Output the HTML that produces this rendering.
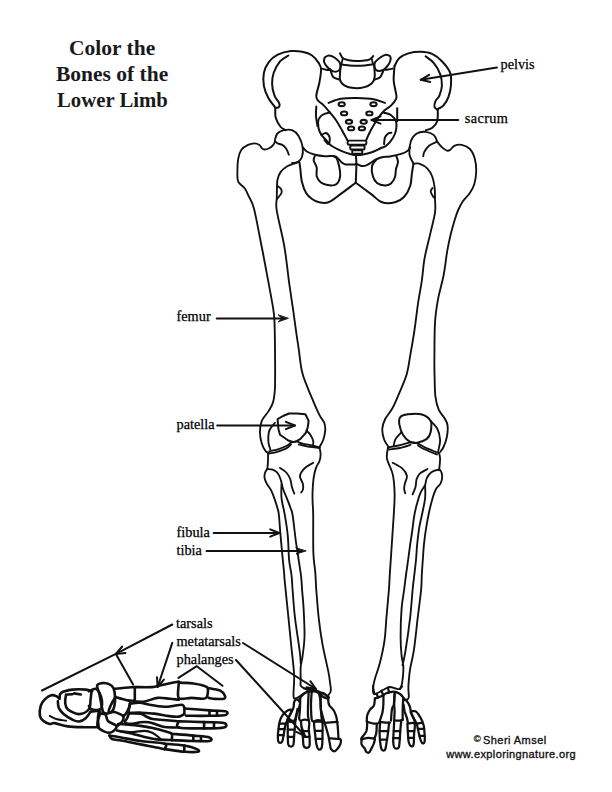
<!DOCTYPE html>
<html><head><meta charset="utf-8">
<style>
html,body{margin:0;padding:0;background:#fff;}
body{width:612px;height:792px;position:relative;overflow:hidden;}
.t{position:absolute;font-family:"Liberation Serif",serif;color:#1a1a1a;white-space:nowrap;line-height:1;}
.title{font-weight:bold;font-size:21.5px;}
.lab{font-size:14.3px;color:#000;-webkit-text-stroke:0.25px #000;}
.cr{position:absolute;font-family:"Liberation Sans",sans-serif;color:#111;-webkit-text-stroke:0.35px #111;white-space:nowrap;line-height:1;}
svg{position:absolute;left:0;top:0;}
</style></head><body>
<div class="t title" style="left:69px;top:38px">Color the</div>
<div class="t title" style="left:56px;top:64px">Bones of the</div>
<div class="t title" style="left:57px;top:90px;transform:scaleX(0.965);transform-origin:0 0">Lower Limb</div>
<div class="t lab" style="left:500.5px;top:57px">pelvis</div>
<div class="t lab" style="left:464.7px;top:111px;letter-spacing:0.4px">sacrum</div>
<div class="t lab" style="left:176.5px;top:308.7px">femur</div>
<div class="t lab" style="left:176.5px;top:416.5px">patella</div>
<div class="t lab" style="left:176.5px;top:524.7px">fibula</div>
<div class="t lab" style="left:176.5px;top:542.7px">tibia</div>
<div class="t lab" style="left:176px;top:616px">tarsals</div>
<div class="t lab" style="left:176.5px;top:634px">metatarsals</div>
<div class="t lab" style="left:176.5px;top:651.5px">phalanges</div>
<div class="cr" style="left:473.8px;top:734.3px;font-size:9.5px;font-weight:normal;-webkit-text-stroke:0.3px #222">©</div>
<div class="cr" style="left:483px;top:734.5px;font-size:11px;letter-spacing:0.45px">Sheri Amsel</div>
<div class="cr" style="left:446.2px;top:748.5px;font-size:11px;letter-spacing:0.38px">www.exploringnature.org</div>
<svg width="612" height="792" viewBox="0 0 612 792" fill="none" stroke="#111" stroke-linecap="round" stroke-linejoin="round">
<path d="M275.3,107.8C274.1,106.0 269.9,100.9 268.0,97.2C266.1,93.5 264.6,89.9 263.9,85.8C263.2,81.7 263.1,76.7 263.9,72.7C264.7,68.8 266.5,65.1 268.8,62.1C271.1,59.1 274.1,56.5 277.8,54.7C281.5,52.9 286.7,51.6 290.8,51.1C294.9,50.6 298.8,51.1 302.3,51.8C305.9,52.5 309.4,53.6 312.1,55.5C314.8,57.4 317.1,60.6 318.6,62.9C320.1,65.2 321.0,66.1 321.1,69.4C321.2,72.7 320.2,78.1 319.4,82.5C318.6,86.9 316.5,92.6 316.3,95.6C316.1,98.6 316.8,98.9 318.0,100.5C319.2,102.1 321.8,103.5 323.7,105.4C325.6,107.3 327.4,109.5 329.4,111.9C331.4,114.3 333.7,116.8 335.9,120.0C338.1,123.2 340.6,127.8 342.5,131.2C344.4,134.6 346.6,138.7 347.4,140.2" stroke-width="2.0"/>
<path d="M288.4,55.5C287.0,56.5 282.6,58.3 280.2,61.2C277.8,64.1 275.0,68.9 273.7,72.7C272.4,76.5 272.0,80.3 272.1,84.1C272.2,87.9 273.4,92.6 274.5,95.6C275.6,98.6 277.8,100.5 278.6,102.1C279.5,103.7 279.7,104.5 279.6,105.4C279.5,106.3 278.9,107.2 278.2,107.6C277.5,108.0 275.8,107.8 275.3,107.8" stroke-width="2.0"/>
<path d="M275.3,107.8C275.4,109.5 274.9,114.8 275.8,118.0C276.7,121.2 279.1,125.0 280.7,127.0C282.3,129.0 284.8,129.7 285.6,130.2" stroke-width="2.0"/>
<path d="M324.7,57.5C325.4,57.1 327.3,55.4 328.9,55.4C330.5,55.4 332.5,56.2 334.4,57.5C336.2,58.8 339.2,61.0 340.0,63.1C340.8,65.2 340.4,68.6 339.3,70.0C338.2,71.4 335.1,71.9 333.1,71.4C331.1,70.9 329.0,68.8 327.5,67.2C326.0,65.6 324.5,63.3 324.0,61.7C323.5,60.1 324.6,58.2 324.7,57.5" stroke-width="2.0"/>
<path d="M321.9,68.6C322.6,68.8 324.6,69.5 326.0,69.8C327.4,70.1 329.6,70.1 330.3,70.2" stroke-width="2.0"/>
<path d="M330.3,69.3C330.8,70.6 331.5,75.3 333.1,77.0C334.7,78.7 338.9,79.2 340.0,79.7" stroke-width="2.0"/>
<path d="M340.0,53.3C340.5,54.1 341.3,57.1 342.8,58.2C344.3,59.4 346.7,59.7 349.0,60.2C351.3,60.7 354.4,60.9 356.7,61.0C359.0,61.1 360.9,60.9 363.0,60.7C365.1,60.5 367.5,60.4 369.2,59.6C370.9,58.8 372.6,56.7 373.3,56.1" stroke-width="2.0"/>
<path d="M341.4,64.4C342.5,64.6 345.4,65.1 348.0,65.3C350.6,65.5 353.9,65.8 356.7,65.8C359.5,65.8 362.2,65.7 365.0,65.5C367.8,65.3 371.9,64.6 373.3,64.4" stroke-width="2.0"/>
<path d="M340.7,64.4C340.6,67.0 339.4,76.2 340.0,79.7C340.6,83.2 341.9,83.9 344.2,85.3C346.5,86.7 350.7,87.8 353.9,88.1C357.1,88.4 360.6,88.2 363.6,87.4C366.6,86.6 370.0,85.0 371.9,83.2C373.8,81.5 374.3,80.0 374.7,76.9C375.1,73.8 374.1,66.5 374.0,64.4" stroke-width="2.0"/>
<path d="M342.8,58.2L341.5,64.0" stroke-width="1.8"/>
<path d="M371.8,59.0L373.0,64.0" stroke-width="1.8"/>
<path d="M390.0,56.1C389.3,55.9 387.4,54.5 385.8,54.7C384.2,54.9 382.2,56.1 380.3,57.5C378.4,58.9 375.4,61.0 374.7,63.1C374.0,65.2 374.7,68.8 376.1,70.0C377.5,71.2 381.0,70.9 383.1,70.0C385.2,69.1 387.3,66.2 388.6,64.4C389.9,62.6 390.5,60.3 390.7,58.9C390.9,57.5 390.1,56.6 390.0,56.1" stroke-width="2.0"/>
<path d="M383.1,71.4C382.6,72.3 381.7,75.6 380.3,77.0C378.9,78.4 375.6,79.2 374.7,79.7" stroke-width="2.0"/>
<path d="M383.1,70.0C383.9,69.9 386.4,69.7 388.0,69.5C389.6,69.3 392.0,68.8 392.8,68.6" stroke-width="2.0"/>
<path d="M394.5,66.1C395.3,64.8 396.9,60.2 399.4,58.0C401.8,55.8 405.6,54.1 409.2,53.1C412.8,52.1 416.9,51.7 420.7,51.8C424.5,51.9 428.6,52.3 432.1,53.9C435.6,55.5 438.9,58.1 441.9,61.2C444.9,64.3 448.6,68.6 450.1,72.7C451.6,76.8 451.2,81.7 450.9,85.8C450.6,89.9 449.6,93.9 448.4,97.2C447.2,100.5 445.1,103.5 443.5,105.4C441.9,107.3 439.7,107.9 438.6,108.6C437.5,109.3 437.3,109.3 437.0,109.4" stroke-width="2.0"/>
<path d="M425.6,56.3C427.0,57.4 431.2,59.9 433.7,62.9C436.1,65.9 438.9,70.5 440.3,74.3C441.7,78.1 442.0,82.2 441.9,85.8C441.8,89.3 440.5,93.0 439.4,95.6C438.3,98.2 436.2,99.4 435.4,101.3C434.6,103.2 434.2,105.7 434.5,107.0C434.8,108.3 436.6,109.0 437.0,109.4" stroke-width="2.0"/>
<path d="M437.8,109.4C437.7,111.4 438.1,118.1 437.2,121.2C436.3,124.3 434.2,126.3 432.3,127.8C430.4,129.3 426.9,129.8 425.8,130.2" stroke-width="2.0"/>
<path d="M394.5,66.1C394.4,68.5 393.4,76.2 393.7,80.8C394.0,85.4 395.7,90.9 396.1,93.9C396.5,96.9 396.9,96.9 396.1,98.8C395.3,100.7 393.1,103.5 391.2,105.4C389.3,107.3 386.8,108.3 384.7,110.3C382.6,112.3 380.9,114.0 378.5,117.5C376.1,121.0 372.4,127.4 370.3,131.2C368.2,135.0 366.9,138.7 366.2,140.2" stroke-width="2.0"/>
<path d="M328.6,102.9C330.6,102.2 336.0,99.6 340.8,98.8C345.6,98.0 351.8,97.9 357.2,98.0C362.6,98.1 368.9,98.4 373.5,99.2C378.1,100.0 383.1,102.3 385.0,102.9" stroke-width="2.0"/>
<path d="M316.3,106.5C316.2,108.1 315.8,112.8 316.0,116.0C316.2,119.2 317.2,124.3 317.5,126.0" stroke-width="2.0"/>
<path d="M397.2,108.2L397.2,121.2" stroke-width="2.0"/>
<path d="M330.0,112.5C328.8,112.8 324.9,113.3 323.0,114.5C321.1,115.7 319.2,117.2 318.5,119.5C317.8,121.8 318.0,125.4 318.5,128.0C319.0,130.6 320.2,133.0 321.5,135.0C322.8,137.0 324.4,138.2 326.0,140.0C327.6,141.8 328.9,144.0 331.4,145.8C333.9,147.6 337.9,149.4 341.2,150.8C344.5,152.2 348.6,153.5 351.0,154.2C353.4,154.9 355.0,155.0 355.8,155.2" stroke-width="2.0"/>
<path d="M321.5,135.0C322.2,134.7 324.7,132.7 326.0,133.0C327.3,133.3 328.9,135.5 329.5,137.0C330.1,138.5 329.8,140.8 329.5,142.0C329.2,143.2 328.8,144.3 328.0,144.0C327.2,143.7 325.1,140.7 324.5,140.0" stroke-width="2.0"/>
<path d="M384.0,112.7C385.2,113.1 389.2,113.7 391.2,115.2C393.2,116.7 395.3,119.2 396.1,121.7C396.9,124.2 396.6,127.2 396.1,129.9C395.6,132.6 394.5,135.4 392.9,138.0C391.3,140.6 388.6,143.8 386.5,145.5C384.4,147.2 382.6,147.3 380.0,148.5C377.4,149.7 374.0,151.5 371.0,152.5C368.0,153.5 364.4,154.2 362.0,154.7C359.6,155.1 357.4,155.1 356.5,155.2" stroke-width="2.0"/>
<path d="M384.1,144.1C384.2,143.0 384.2,139.4 384.9,137.6C385.6,135.8 387.1,134.3 388.2,133.5C389.3,132.7 390.9,132.8 391.4,132.7" stroke-width="2.0"/>
<path d="M302.7,147.4C303.4,148.1 304.8,150.3 306.8,151.5C308.9,152.7 312.0,153.9 315.0,154.7C318.0,155.5 322.3,156.0 324.8,156.2C327.3,156.4 328.1,156.0 330.0,156.1C331.9,156.2 333.9,155.5 335.9,156.6C337.9,157.7 340.2,161.2 341.8,162.5C343.4,163.8 343.6,164.1 345.7,164.4C347.8,164.7 352.7,164.5 354.5,164.4C356.3,164.3 355.4,163.7 356.5,163.9C357.6,164.2 359.8,165.7 361.4,165.9C363.0,166.2 364.7,166.0 366.3,165.4C367.9,164.8 369.6,163.5 371.2,162.5C372.8,161.5 374.3,160.4 376.1,159.5C377.9,158.6 379.7,157.7 382.0,157.2C384.3,156.7 386.6,156.9 389.8,156.4C393.0,155.9 398.2,154.9 401.2,153.9C404.2,152.9 406.3,151.8 407.8,150.7C409.3,149.6 409.8,147.9 410.2,147.4" stroke-width="2.0"/>
<path d="M314.7,156.2C314.5,156.9 313.4,158.7 313.7,160.6C314.0,162.5 316.2,164.9 316.7,167.5C317.2,170.1 316.0,173.9 316.7,176.3C317.4,178.8 318.8,180.7 320.6,182.2C322.4,183.7 325.2,184.6 327.5,185.1C329.8,185.6 332.5,185.6 334.3,185.1C336.1,184.6 337.2,183.8 338.2,182.2C339.2,180.6 340.0,177.9 340.2,175.3C340.4,172.7 339.8,169.3 339.2,166.5C338.6,163.7 337.6,160.2 336.8,158.6C336.0,157.0 334.7,157.0 334.3,156.7" stroke-width="2.0"/>
<path d="M376.0,160.0C375.3,161.0 372.5,163.3 372.0,166.0C371.5,168.7 372.0,173.3 372.8,176.1C373.6,178.9 375.0,181.4 377.0,183.0C379.0,184.6 382.6,185.4 384.9,185.5C387.2,185.6 389.3,184.9 391.0,183.5C392.7,182.1 394.2,179.4 395.0,177.0C395.8,174.6 395.5,171.5 396.0,169.0C396.5,166.5 397.9,164.2 398.0,162.0C398.1,159.8 396.6,157.0 396.3,156.0" stroke-width="2.0"/>
<path d="M355.9,155.7C356.0,157.2 356.4,160.6 356.4,164.5C356.4,168.4 356.0,176.2 355.9,179.2C355.8,182.2 355.8,182.1 355.8,182.7" stroke-width="2.0"/>
<path d="M299.4,162.1C299.5,163.2 299.9,165.3 300.3,168.6C300.7,171.9 300.9,177.6 301.9,181.7C302.9,185.8 304.4,190.1 306.1,193.0C307.8,195.9 309.8,197.4 312.0,199.0C314.2,200.6 316.5,201.8 319.2,202.3C321.9,202.9 324.9,203.6 328.4,202.3C331.9,201.0 335.5,197.7 340.1,194.4C344.7,191.1 353.2,184.6 355.8,182.7" stroke-width="2.0"/>
<path d="M355.8,182.7C358.4,184.6 367.1,191.1 371.5,194.4C375.9,197.7 378.1,201.0 382.0,202.3C385.9,203.6 391.3,203.2 395.0,202.3C398.7,201.4 401.5,199.7 404.0,197.0C406.5,194.3 408.9,189.9 410.2,186.0C411.5,182.1 411.3,177.2 411.9,173.5C412.4,169.8 413.2,165.3 413.5,163.7" stroke-width="2.0"/>
<path d="M274.9,140.0C275.3,138.9 275.9,135.1 277.4,133.5C278.9,131.9 281.4,130.8 283.9,130.2C286.3,129.6 289.7,129.2 292.1,130.2C294.6,131.2 296.8,133.1 298.6,136.0C300.4,138.9 302.1,143.9 302.7,147.4C303.2,150.9 302.7,154.8 301.9,157.2C301.1,159.6 299.4,161.1 297.8,162.1C296.2,163.1 293.1,162.8 292.1,162.9" stroke-width="1.85"/>
<path d="M274.9,141.0C275.3,141.4 276.2,142.7 277.4,143.3C278.6,144.0 280.8,144.0 282.3,144.9C283.8,145.8 285.3,147.4 286.4,149.0C287.5,150.6 288.4,153.8 288.8,154.7" stroke-width="1.85"/>
<path d="M274.9,141.7C274.6,142.2 274.2,143.8 273.3,144.9C272.4,146.0 270.7,147.4 269.2,148.2C267.7,149.0 265.5,149.5 264.3,149.5C263.1,149.5 262.7,149.0 261.9,148.2C261.1,147.4 260.6,145.7 259.4,144.9C258.2,144.1 256.4,143.3 254.5,143.3C252.6,143.3 250.2,143.8 248.0,144.9C245.8,146.0 243.0,147.5 241.4,149.8C239.8,152.1 238.9,155.1 238.2,158.8C237.5,162.5 237.4,168.1 237.4,171.9C237.4,175.7 237.0,179.0 238.2,181.7C239.4,184.4 242.9,185.8 244.7,188.2C246.5,190.6 247.2,192.9 248.8,196.4C250.4,199.9 251.9,200.5 254.1,208.9C256.2,217.3 259.6,236.4 261.7,246.8C263.8,257.2 264.5,261.3 266.4,271.4C268.3,281.5 271.6,298.9 273.0,307.4C274.4,315.9 274.2,315.7 274.5,322.6C274.8,329.5 274.9,338.2 275.0,348.9C275.1,359.6 275.3,377.9 275.0,386.8C274.7,395.7 274.2,397.9 273.1,402.0C272.0,406.1 270.3,408.2 268.4,411.4C266.5,414.5 263.2,417.4 261.8,420.9C260.4,424.4 259.9,428.5 259.9,432.3C259.9,436.1 260.9,440.5 261.8,443.6C262.8,446.8 264.3,449.6 265.6,451.2C266.9,452.8 268.8,452.8 269.4,453.1" stroke-width="1.85"/>
<path d="M297.8,162.1C297.1,162.4 295.5,163.0 293.7,163.7C291.9,164.4 289.4,164.8 287.2,166.2C285.0,167.6 282.3,169.6 280.7,171.9C279.1,174.2 278.0,175.8 277.4,180.1C276.8,184.4 276.9,192.5 276.8,197.6C276.7,202.7 275.5,202.6 276.8,210.8C278.1,219.0 282.3,234.5 284.4,246.8C286.5,259.1 287.9,274.0 289.4,284.7C290.9,295.4 292.2,303.6 293.3,311.2C294.4,318.8 295.0,323.7 295.9,330.0C296.8,336.3 297.6,341.6 298.7,348.9C299.8,356.2 300.3,365.4 302.5,373.6C304.7,381.8 309.2,391.3 312.0,398.2C314.8,405.1 317.4,411.1 319.5,415.2C321.6,419.3 323.4,420.3 324.3,422.8C325.2,425.3 325.4,427.6 325.2,430.4C325.0,433.2 324.2,437.0 323.3,439.8C322.4,442.6 320.1,445.8 319.5,447.0" stroke-width="1.85"/>
<path d="M277.4,186.0C278.0,186.5 280.3,187.8 281.0,189.0C281.7,190.2 282.2,191.3 281.5,193.0C280.8,194.7 277.8,198.0 277.0,199.0" stroke-width="1.85"/>
<path d="M277.6,419.2 L283.0,416.0 L289.0,413.5 L297.0,413.6 L305.4,414.3 L308.6,420.8 L307.8,427.0 L306.2,432.3 L300.5,438.8 L297.0,440.8 L293.9,442.1 L288.2,440.5 L284.0,437.5 L280.0,434.7 L278.4,429.0Z" stroke-width="2.0"/>
<path d="M275.0,422.8C274.1,424.1 270.5,427.2 269.4,430.4C268.3,433.5 268.2,438.5 268.4,441.7C268.5,444.9 270.0,448.0 270.3,449.3" stroke-width="1.85"/>
<path d="M306.4,430.5C307.1,431.2 309.4,433.2 310.5,435.0C311.6,436.8 312.8,439.2 313.2,441.0C313.6,442.8 313.0,445.2 313.0,446.0" stroke-width="1.85"/>
<path d="M269.4,451.2C270.8,450.9 274.9,450.2 277.9,449.3C280.9,448.4 285.1,446.6 287.3,445.5C289.5,444.4 289.5,443.3 291.1,442.7C292.7,442.1 294.9,441.5 296.8,441.7C298.7,441.9 300.0,443.0 302.5,443.6C305.0,444.2 309.2,444.9 312.0,445.5C314.8,446.1 318.2,447.1 319.5,447.4" stroke-width="1.85"/>
<path d="M269.2,453.5C270.5,453.2 274.3,452.7 277.2,451.8C280.1,450.9 284.0,449.6 286.3,448.4C288.6,447.2 290.2,445.1 291.0,444.5" stroke-width="1.85"/>
<path d="M298.9,444.5C300.4,444.9 304.6,446.1 308.0,446.7C311.4,447.3 317.6,447.8 319.5,448.0" stroke-width="1.85"/>
<path d="M413.5,163.7C412.8,162.1 409.8,157.7 409.4,153.9C409.0,150.1 409.8,144.2 411.0,140.8C412.2,137.4 414.3,135.0 416.8,133.5C419.3,132.0 423.0,131.6 425.8,131.9C428.6,132.2 432.0,133.5 433.9,135.1C435.8,136.7 436.6,140.6 437.2,141.7" stroke-width="1.85"/>
<path d="M437.2,141.7C435.8,142.4 431.2,144.0 429.0,145.8C426.8,147.6 425.1,150.5 424.1,152.3C423.2,154.1 423.4,155.7 423.3,156.4" stroke-width="1.85"/>
<path d="M437.2,141.7C438.0,142.6 440.5,145.9 442.1,147.4C443.7,148.9 445.6,150.3 447.0,150.7C448.4,151.1 449.1,150.6 450.3,149.8C451.5,149.0 452.4,146.6 454.3,145.8C456.2,145.0 459.1,144.4 461.7,144.9C464.3,145.4 467.7,146.7 469.9,149.0C472.1,151.3 473.8,155.1 474.8,158.8C475.9,162.6 476.3,167.2 476.2,171.5C476.1,175.8 475.3,180.8 474.2,184.5C473.1,188.2 471.4,190.7 469.5,193.5C467.6,196.3 464.6,198.8 462.7,201.5C460.8,204.2 459.5,207.1 458.2,210.0C456.9,212.9 456.2,215.0 455.0,219.0C453.8,223.0 452.1,228.7 450.8,234.0C449.5,239.3 448.5,243.7 447.3,250.6C446.1,257.5 445.2,267.0 443.6,275.2C442.0,283.4 439.3,291.9 437.9,299.8C436.5,307.7 435.6,312.8 435.0,322.6C434.4,332.4 434.5,349.3 434.4,358.4C434.3,367.5 434.4,371.0 434.6,377.3C434.8,383.6 434.7,391.0 435.4,396.3C436.1,401.6 437.0,405.6 438.6,409.4C440.2,413.2 443.7,416.5 445.2,419.2C446.7,421.9 447.3,422.8 447.6,425.8C447.9,428.8 447.5,433.7 446.8,437.2C446.1,440.7 444.6,444.6 443.5,447.0C442.4,449.4 440.8,451.1 440.3,451.9" stroke-width="1.85"/>
<path d="M413.5,163.7C414.4,163.7 416.9,162.9 419.2,163.7C421.5,164.5 425.2,166.4 427.4,168.6C429.6,170.8 431.1,173.5 432.3,176.8C433.5,180.1 434.2,184.4 434.7,188.2C435.1,192.0 434.9,195.4 435.0,199.5C435.1,203.6 435.8,207.0 435.0,212.7C434.2,218.4 432.0,226.0 430.3,233.6C428.6,241.2 426.0,250.3 424.6,258.2C423.2,266.1 422.9,273.3 421.8,280.9C420.7,288.5 419.2,295.4 418.0,303.6C416.8,311.8 415.7,321.8 414.5,330.0C413.3,338.2 412.0,345.4 410.7,352.7C409.4,360.0 408.6,367.3 406.9,373.6C405.2,379.9 402.7,384.9 400.3,390.6C397.9,396.3 395.2,403.0 392.7,407.7C390.2,412.4 386.9,415.5 385.2,419.0C383.5,422.5 382.5,425.0 382.3,428.5C382.1,432.0 383.1,436.7 384.2,439.8C385.3,442.9 388.1,446.1 388.9,447.4" stroke-width="1.85"/>
<path d="M432.5,188.0C432.2,188.6 430.6,190.1 430.7,191.5C430.8,192.9 432.4,195.3 433.1,196.4C433.8,197.5 434.7,197.7 435.0,198.0" stroke-width="1.85"/>
<path d="M400.3,417.1C401.7,415.4 404.4,414.8 407.9,414.3C411.4,413.8 417.3,413.2 421.1,414.3C424.9,415.4 429.0,417.9 430.6,420.9C432.2,423.9 431.2,429.3 430.6,432.3C430.0,435.3 429.0,437.2 426.8,438.9C424.6,440.6 420.1,442.2 417.3,442.7C414.5,443.2 412.2,443.0 409.8,441.7C407.4,440.4 404.8,437.9 403.1,435.1C401.4,432.3 399.9,427.7 399.4,424.7C398.9,421.7 398.9,418.8 400.3,417.1Z" stroke-width="2.0"/>
<path d="M401.3,432.3C400.4,433.4 396.9,436.7 395.6,438.9C394.3,441.1 394.0,444.4 393.7,445.5" stroke-width="1.85"/>
<path d="M430.6,420.9C431.7,422.2 435.6,425.4 437.2,428.5C438.8,431.6 439.9,436.0 440.1,439.8C440.3,443.6 438.5,449.3 438.2,451.2" stroke-width="1.85"/>
<path d="M388.0,447.4C389.7,447.1 394.8,446.3 398.4,445.5C402.0,444.7 406.6,443.1 409.8,442.7C413.0,442.3 414.8,442.5 417.3,443.3C419.8,444.1 421.7,445.9 424.9,447.4C428.1,448.9 433.9,451.2 436.3,452.2C438.7,453.1 438.6,453.0 439.1,453.1" stroke-width="1.85"/>
<path d="M389.0,449.5C390.8,449.2 396.4,448.8 400.0,448.0C403.6,447.2 408.8,445.3 410.5,444.8" stroke-width="1.85"/>
<path d="M418.0,445.5C419.2,446.2 421.8,448.0 425.0,449.5C428.2,451.0 435.0,453.7 437.0,454.5" stroke-width="1.85"/>
<path d="M268.0,453.0C268.0,454.3 268.1,458.4 268.0,461.0C267.9,463.6 267.5,467.2 267.4,468.5" stroke-width="1.85"/>
<path d="M267.4,469.0C267.0,469.6 265.6,471.0 265.1,472.5C264.6,474.0 264.3,476.3 264.6,478.2C264.9,480.1 265.8,481.8 266.9,483.9C268.0,486.0 270.1,488.1 271.4,490.8C272.7,493.5 273.8,496.9 274.9,499.9C275.9,502.9 277.0,506.5 277.7,509.0C278.4,511.5 278.5,511.0 278.9,515.0C279.3,519.0 279.8,526.4 280.3,532.8C280.9,539.2 281.6,547.0 282.2,553.6C282.8,560.2 283.7,568.2 284.1,572.6C284.5,577.0 284.0,574.0 284.6,580.0C285.2,586.0 286.4,597.4 287.5,608.4C288.6,619.4 290.2,635.2 291.3,646.3C292.4,657.3 293.7,666.4 294.1,674.7C294.5,683.0 293.2,692.2 293.5,696.1C293.8,700.0 295.0,698.1 296.1,698.1C297.2,698.1 298.7,697.0 300.1,696.1C301.5,695.2 303.9,693.4 304.6,692.9" stroke-width="1.85"/>
<path d="M267.4,469.0C268.3,469.1 271.0,469.0 272.6,469.6C274.2,470.2 275.9,470.9 277.2,472.5C278.5,474.1 279.7,476.6 280.6,479.3C281.6,482.0 281.8,485.1 282.9,488.5C284.0,491.9 286.2,496.5 287.5,499.9C288.8,503.3 290.0,506.5 290.9,509.0C291.8,511.5 291.8,510.1 292.6,515.0C293.4,519.9 294.6,531.4 295.5,538.5C296.4,545.6 297.4,551.1 298.3,557.4C299.2,563.7 300.5,571.0 301.1,576.4C301.7,581.8 301.7,584.7 302.1,590.0C302.5,595.3 303.2,600.6 303.6,608.4C304.0,616.2 304.7,628.9 304.5,636.8C304.3,644.7 303.2,650.8 302.6,655.8C302.0,660.8 301.0,663.0 300.7,667.1C300.4,671.2 300.7,677.4 300.7,680.5C300.7,683.6 300.1,684.4 300.7,685.7C301.2,687.0 302.8,687.6 304.0,688.3C305.2,688.9 307.2,689.4 307.9,689.6" stroke-width="1.85"/>
<path d="M281.5,484.5C281.5,486.7 281.0,492.9 281.5,497.9C282.0,502.9 283.6,508.0 284.7,514.3C285.8,520.6 287.1,528.2 287.8,535.8C288.5,543.4 288.5,553.5 289.1,560.0C289.7,566.5 290.9,570.0 291.5,575.0C292.1,580.0 292.0,582.9 292.6,590.0C293.2,597.1 293.8,607.6 295.0,617.9C296.2,628.2 298.9,644.4 299.8,652.0C300.8,659.6 300.6,661.4 300.7,663.3" stroke-width="1.85"/>
<path d="M280.0,467.9C281.1,468.7 284.6,470.6 286.3,472.5C288.0,474.4 289.4,476.8 290.3,479.3C291.2,481.8 291.3,484.9 292.0,487.3C292.7,489.7 293.9,492.6 294.3,493.6" stroke-width="1.85"/>
<path d="M313.2,462.7C312.0,463.5 307.8,465.7 305.8,467.3C303.8,468.9 302.2,470.9 301.2,472.5C300.2,474.1 299.7,475.1 300.0,477.0C300.3,478.9 302.4,481.8 302.9,483.9C303.4,486.0 303.2,488.2 302.9,489.6C302.6,491.0 301.5,492.0 301.2,492.5" stroke-width="1.85"/>
<path d="M319.5,447.3C319.7,448.4 320.6,451.9 320.6,454.2C320.6,456.5 320.3,458.7 319.5,461.0C318.7,463.3 316.9,465.2 316.0,467.9C315.1,470.6 314.4,473.2 313.8,477.0C313.2,480.8 312.8,486.6 312.6,490.8C312.4,495.0 312.5,498.2 312.6,502.2C312.7,506.2 313.1,506.4 313.2,515.0C313.3,523.6 313.0,544.0 313.4,553.6C313.8,563.2 314.8,566.5 315.3,572.6C315.8,578.7 315.7,582.5 316.3,590.0C316.9,597.5 317.7,608.8 318.7,617.9C319.7,627.0 320.9,635.6 322.5,644.4C324.1,653.2 326.9,664.4 328.2,670.9C329.5,677.4 329.7,679.8 330.1,683.1C330.5,686.4 331.1,688.8 330.8,690.9C330.5,693.0 329.2,694.4 328.2,695.5C327.2,696.6 325.9,697.4 324.9,697.5C323.9,697.6 323.2,696.9 322.3,696.1C321.4,695.3 320.6,693.8 319.7,692.9C318.8,692.0 317.5,691.2 317.1,690.9" stroke-width="1.85"/>
<path d="M304.0,688.3C304.9,688.4 307.1,688.5 309.2,688.9C311.3,689.3 314.3,689.8 316.8,690.8C319.3,691.8 323.1,694.0 324.4,694.6" stroke-width="1.85"/>
<path d="M388.0,447.6C387.8,449.5 386.2,454.5 387.0,458.9C387.8,463.3 391.4,468.4 392.7,474.1C394.0,479.8 394.4,486.1 394.6,493.0C394.8,499.9 394.2,507.3 393.7,515.8C393.2,524.3 392.4,534.7 391.8,544.2C391.2,553.7 390.4,565.0 389.9,572.6C389.4,580.2 389.5,582.5 388.9,590.0C388.3,597.5 387.1,609.5 386.4,617.9C385.7,626.3 385.6,633.0 384.5,640.6C383.4,648.2 381.4,657.0 379.8,663.3C378.2,669.6 376.1,674.5 375.0,678.5C373.9,682.5 373.4,684.4 373.3,687.0C373.2,689.6 374.4,693.0 374.6,694.2" stroke-width="1.85"/>
<path d="M439.1,453.1C439.3,454.1 440.1,456.0 440.1,458.9C440.1,461.8 439.3,468.4 439.1,470.3" stroke-width="1.85"/>
<path d="M425.1,485.3C424.4,486.5 421.9,489.8 420.6,492.7C419.3,495.6 418.2,499.2 417.2,503.0C416.1,506.8 415.2,510.6 414.3,515.5C413.4,520.4 412.8,527.2 412.0,532.5C411.2,537.8 410.4,542.7 409.8,547.3C409.2,551.9 408.7,555.4 408.1,560.0C407.5,564.6 406.7,570.0 406.0,575.0C405.3,580.0 404.8,584.4 404.1,590.0C403.4,595.6 402.2,600.6 401.6,608.4C401.0,616.2 400.6,628.9 400.6,636.8C400.6,644.7 401.1,650.8 401.6,655.8C402.1,660.8 403.3,662.5 403.4,667.1C403.5,671.7 402.7,679.5 402.1,683.1C401.6,686.8 400.4,688.0 400.1,689.0" stroke-width="1.85"/>
<path d="M425.1,485.9C425.1,488.0 425.6,493.8 425.1,498.4C424.6,502.9 423.2,508.5 422.3,513.2C421.4,517.9 420.2,521.7 419.4,526.8C418.5,531.9 417.8,538.4 417.2,543.9C416.6,549.4 416.5,554.8 416.0,560.0C415.5,565.2 414.9,570.0 414.3,575.0C413.7,580.0 413.3,582.9 412.6,590.0C411.9,597.1 411.3,607.6 410.1,617.9C408.9,628.2 406.6,644.1 405.3,652.0C404.0,659.9 403.0,663.0 402.5,665.2" stroke-width="1.85"/>
<path d="M425.1,485.9C425.4,484.6 425.8,480.3 426.8,478.0C427.9,475.7 429.7,473.6 431.4,472.3C433.1,471.0 435.5,470.3 437.0,470.0C438.5,469.7 439.6,469.4 440.5,470.5C441.4,471.6 442.2,474.6 442.2,476.8C442.2,479.0 441.6,481.5 440.5,483.6C439.4,485.7 437.2,486.8 435.9,489.3C434.6,491.8 433.6,494.6 432.5,498.4C431.4,502.2 430.1,507.3 429.1,512.0C428.1,516.7 427.2,521.5 426.3,526.8C425.4,532.1 424.6,538.4 424.0,543.9C423.4,549.4 423.2,554.8 422.8,560.0C422.4,565.2 422.1,570.0 421.8,575.0C421.5,580.0 421.8,582.9 421.1,590.0C420.4,597.1 418.9,607.9 417.7,617.9C416.5,627.9 415.2,641.6 413.9,650.1C412.6,658.6 411.0,663.5 410.1,669.0C409.2,674.5 408.9,679.7 408.6,683.1C408.3,686.5 408.4,687.2 408.4,689.5C408.4,691.8 409.0,695.4 408.8,697.0C408.6,698.6 408.1,699.1 407.4,699.4C406.7,699.7 405.8,699.8 404.6,698.9C403.4,698.0 401.6,695.3 400.3,694.2C399.0,693.1 397.6,692.6 397.0,692.3" stroke-width="1.85"/>
<path d="M392.7,462.7C394.3,463.6 399.8,466.2 402.2,468.4C404.6,470.6 406.4,473.3 406.9,475.7C407.4,478.1 405.7,480.4 405.2,482.5C404.7,484.6 404.1,486.4 404.1,488.2C404.1,490.0 405.0,492.4 405.2,493.3" stroke-width="1.85"/>
<path d="M427.5,469.0C426.2,469.7 421.8,471.7 420.0,473.4C418.2,475.1 417.4,476.8 416.6,479.1C415.9,481.4 416.2,484.4 415.5,487.0C414.8,489.6 413.1,493.2 412.6,494.4" stroke-width="1.85"/>
<path d="M373.0,685.7C373.0,686.7 372.8,690.0 373.0,691.4C373.2,692.8 373.0,694.3 374.4,694.2C375.8,694.1 379.1,692.1 381.5,690.9C383.9,689.7 386.8,687.5 389.1,687.1C391.5,686.7 393.9,688.2 395.6,688.5C397.3,688.8 398.3,689.3 399.4,689.0C400.5,688.7 401.7,687.0 402.2,686.6" stroke-width="1.85"/>
<path d="M496.9,67.6L420.8,79.8" stroke-width="2.0"/>
<path d="M429.1,74.8L420.8,79.8L430.3,81.9" stroke-width="2.0"/>
<path d="M458.2,120L371.5,120" stroke-width="2.0"/>
<path d="M380.5,116.4L371.5,120L380.5,123.6" stroke-width="2.0"/>
<path d="M216.7,318.4L283.2,318.4" stroke-width="2.0"/>
<path d="M217.2,425.5L294.9,425.5" stroke-width="2.0"/>
<path d="M285.9,429.1L294.9,425.5L285.9,421.9" stroke-width="2.0"/>
<path d="M213.6,533L279.2,533" stroke-width="2.0"/>
<path d="M270.2,536.6L279.2,533L270.2,529.4" stroke-width="2.0"/>
<path d="M206.5,551L300.9,551.0" stroke-width="2.0"/>
<path d="M172.3,624.5L115.9,653.9" stroke-width="2.0"/>
<path d="M122.2,646.5L115.9,653.9L125.5,652.9" stroke-width="2.0"/>
<path d="M42.0,690.5 L115.9,653.9 L133.1,684.6" stroke-width="2.0"/>
<path d="M172.3,642.9L157.6,687" stroke-width="2.0"/>
<path d="M157.0,677.3L157.6,687L163.9,679.6" stroke-width="2.0"/>
<path d="M178.4,677.9 L196.8,666.2 L222.5,685.8" stroke-width="2.0"/>
<path d="M243,643L316,689" stroke-width="2.0"/>
<path d="M306.5,687.2L316,689L310.3,681.2" stroke-width="2.0"/>
<path d="M236,660L305,736" stroke-width="2.0"/>
<path d="M296.3,731.8L305,736L301.6,726.9" stroke-width="2.0"/>
<path d="M306.6,689.6C307.5,689.6 310.4,689.6 312.0,689.8C313.6,690.0 315.0,690.2 316.5,690.7C318.0,691.2 319.6,692.0 320.9,692.5C322.1,693.0 322.8,692.8 324.0,693.5C325.2,694.2 327.3,696.0 328.0,696.5" stroke-width="2.25"/>
<path d="M299.5,698.2C300.2,697.5 302.7,694.9 303.9,693.9C305.1,692.9 305.4,692.5 306.6,692.1C307.8,691.7 309.6,691.7 311.1,691.6C312.6,691.5 314.2,691.3 315.6,691.6C317.0,691.9 318.0,692.6 319.2,693.4C320.4,694.2 321.5,695.8 322.7,696.6C323.9,697.4 325.2,698.2 326.3,698.4C327.4,698.5 328.6,697.6 329.0,697.5" stroke-width="2.25"/>
<path d="M290.4,709.7C289.6,709.8 288.0,710.2 286.7,711.2C285.4,712.2 283.5,713.9 282.3,715.6C281.1,717.3 280.3,719.4 279.7,721.5C279.1,723.6 278.9,725.8 278.6,728.1C278.3,730.4 277.9,733.2 277.9,735.4C277.8,737.6 277.9,740.1 278.3,741.3C278.7,742.5 279.4,742.8 280.1,742.8C280.8,742.8 281.7,742.8 282.3,741.3C282.9,739.8 283.3,736.6 283.8,734.0C284.3,731.4 284.6,728.2 285.2,725.9C285.8,723.6 286.5,722.0 287.4,720.0C288.3,718.0 289.7,715.7 290.4,714.1C291.1,712.5 291.5,711.1 291.5,710.4C291.5,709.7 291.2,709.6 290.4,709.7Z" stroke-width="2.25"/>
<path d="M279.5,723.7L286.0,723.7" stroke-width="2.25"/>
<path d="M278.6,729.0L284.8,729.0" stroke-width="2.25"/>
<path d="M278.0,735.1L283.8,735.1" stroke-width="2.25"/>
<path d="M294.1,702.4C293.6,703.9 294.1,706.0 293.3,708.2C292.6,710.4 290.6,713.5 289.6,715.6C288.6,717.7 286.6,719.7 287.4,720.7C288.1,721.7 292.6,722.5 294.1,721.5C295.6,720.5 295.6,716.9 296.3,714.9C297.0,712.9 297.9,711.8 298.5,709.7C299.1,707.6 300.3,704.1 299.9,702.4C299.5,700.7 297.3,699.4 296.3,699.4C295.3,699.4 294.6,700.9 294.1,702.4Z" stroke-width="2.25"/>
<path d="M288.2,721.5C287.0,722.6 287.9,725.6 287.8,728.1C287.7,730.6 287.7,733.5 287.8,736.2C287.9,738.9 287.8,742.6 288.2,744.3C288.6,746.0 289.5,746.4 290.4,746.5C291.2,746.6 292.7,746.7 293.3,745.0C293.9,743.3 293.9,739.0 294.1,736.2C294.4,733.4 294.7,730.6 294.8,728.1C294.9,725.6 295.9,722.6 294.8,721.5C293.7,720.4 289.4,720.4 288.2,721.5Z" stroke-width="2.25"/>
<path d="M287.9,729.6L294.7,729.6" stroke-width="2.25"/>
<path d="M287.8,736.9L294.0,736.9" stroke-width="2.25"/>
<path d="M300.3,698.2C300.2,700.1 300.1,706.3 299.9,709.7C299.7,713.1 299.1,716.7 299.2,718.5C299.3,720.3 300.1,720.3 300.3,720.7" stroke-width="2.25"/>
<path d="M308.6,693.5C308.5,695.7 308.1,703.1 308.0,706.8C307.9,710.5 307.9,713.4 308.0,715.6C308.1,717.8 308.7,719.3 308.8,720.0" stroke-width="2.25"/>
<path d="M301.4,720.7C300.3,722.3 301.9,727.7 302.1,730.3C302.4,732.9 302.6,733.6 302.9,736.2C303.1,738.8 303.0,743.8 303.6,745.7C304.2,747.7 305.6,747.9 306.6,747.9C307.6,747.9 309.0,747.7 309.5,745.7C310.0,743.8 309.6,738.9 309.5,736.2C309.4,733.5 308.9,732.2 308.8,729.6C308.7,727.0 310.0,722.2 308.8,720.7C307.6,719.2 302.5,719.1 301.4,720.7Z" stroke-width="2.25"/>
<path d="M302.0,731.0L309.0,731.0" stroke-width="2.25"/>
<path d="M302.8,736.9L309.4,736.9" stroke-width="2.25"/>
<path d="M297.5,709.0C297.3,710.0 296.8,713.0 296.5,715.0C296.2,717.0 295.7,720.0 295.5,721.0" stroke-width="2.25"/>
<path d="M311.7,691.8C311.6,693.9 311.0,700.0 311.0,704.6C311.0,709.2 311.3,716.5 311.7,719.3C312.1,722.1 313.2,721.1 313.5,721.5" stroke-width="2.25"/>
<path d="M318.5,691.8C318.8,693.2 320.1,697.1 320.5,700.0C320.9,702.9 320.6,705.5 320.8,709.0C321.0,712.5 321.7,719.0 321.9,721.0" stroke-width="2.25"/>
<path d="M313.5,721.6L321.9,721.6" stroke-width="2.25"/>
<path d="M314.5,721.6C313.4,723.5 314.6,729.0 315.0,733.0C315.4,737.0 316.0,742.8 316.7,745.6C317.4,748.4 318.1,749.4 319.0,749.6C319.9,749.8 321.3,749.4 321.9,746.8C322.5,744.2 322.5,738.4 322.5,734.2C322.5,730.0 323.2,723.7 321.9,721.6C320.6,719.5 315.6,719.7 314.5,721.6Z" stroke-width="2.25"/>
<path d="M315.0,730.8L322.3,730.8" stroke-width="2.25"/>
<path d="M315.6,738.8L322.3,738.8" stroke-width="2.25"/>
<path d="M320.9,693.9C320.8,695.1 320.5,698.5 320.5,701.1C320.5,703.7 320.5,706.7 320.9,709.2C321.3,711.7 322.1,714.0 322.7,716.3C323.3,718.6 324.2,721.9 324.5,723.0" stroke-width="2.25"/>
<path d="M328.1,697.5C328.2,698.7 328.1,702.6 329.0,704.7C329.9,706.8 332.3,708.1 333.5,710.0C334.7,711.9 335.6,714.3 336.2,716.3C336.8,718.3 337.0,721.0 337.1,722.0" stroke-width="2.25"/>
<path d="M324.5,722.8L337.3,721.8" stroke-width="2.25"/>
<path d="M324.5,722.8C324.9,724.0 326.1,727.5 326.8,730.0C327.5,732.5 328.5,736.3 328.8,737.6" stroke-width="2.25"/>
<path d="M337.3,721.8C337.4,723.2 337.8,727.2 338.0,730.0C338.2,732.8 338.4,737.3 338.5,738.8" stroke-width="2.25"/>
<path d="M328.8,738.2C329.0,739.2 329.6,742.7 330.0,744.5C330.4,746.3 330.2,747.9 331.0,749.0C331.8,750.1 333.4,751.3 334.5,751.3C335.6,751.3 336.4,750.1 337.3,749.0C338.2,747.9 339.6,746.0 340.2,744.5C340.8,743.0 341.1,740.9 340.8,739.9C340.5,738.9 340.5,739.1 338.5,738.8C336.5,738.5 330.4,738.3 328.8,738.2" stroke-width="2.25"/>
<path d="M374.9,698.5C375.8,698.2 378.7,697.5 380.6,696.6C382.5,695.7 384.4,694.1 386.3,693.3C388.2,692.5 390.2,692.0 391.9,691.8C393.6,691.6 395.3,691.9 396.7,692.3C398.1,692.7 399.4,693.6 400.3,694.2C401.2,694.8 401.5,695.2 402.2,696.1C402.9,697.0 404.2,698.9 404.6,699.4" stroke-width="2.25"/>
<path d="M376.8,693.8L378.0,697.5" stroke-width="2.25"/>
<path d="M381.5,690.9L383.4,695.6" stroke-width="2.25"/>
<path d="M388.0,687.5L389.0,692.5" stroke-width="2.25"/>
<path d="M374.9,698.5C374.7,699.7 374.7,703.8 373.9,705.6C373.1,707.4 371.3,707.8 370.2,709.4C369.1,711.0 367.9,713.1 367.3,715.0C366.7,716.9 366.8,719.6 366.8,720.7C366.8,721.8 366.1,721.2 367.3,721.7C368.5,722.2 372.0,723.4 373.9,723.6C375.8,723.8 377.7,723.7 378.7,723.1C379.7,722.5 379.5,721.6 380.1,719.8C380.7,718.0 381.9,714.9 382.5,712.2C383.1,709.5 383.2,706.5 383.4,703.7C383.5,700.9 383.4,697.0 383.4,695.6" stroke-width="2.25"/>
<path d="M367.3,721.7C367.1,723.3 367.3,728.4 366.4,731.1C365.4,733.8 362.4,736.4 361.6,737.8C360.8,739.2 361.6,739.4 361.6,739.7" stroke-width="2.25"/>
<path d="M376.8,724.0C376.7,725.5 376.7,730.5 376.3,733.0C375.9,735.5 374.7,737.8 374.4,738.7" stroke-width="2.25"/>
<path d="M361.6,739.2C362.7,739.0 366.2,737.9 368.3,737.8C370.4,737.7 373.4,738.6 374.4,738.7" stroke-width="2.25"/>
<path d="M361.6,739.7C361.6,740.5 361.1,743.0 361.6,744.4C362.1,745.8 363.7,746.9 364.5,748.2C365.3,749.5 365.6,751.3 366.4,752.0C367.2,752.7 368.4,752.9 369.2,752.4C370.0,751.9 370.4,750.4 371.1,749.1C371.8,747.8 372.9,746.0 373.5,744.4C374.1,742.8 374.7,740.5 374.9,739.7" stroke-width="2.25"/>
<path d="M394.6,693.0C394.5,694.9 394.2,702.2 393.8,704.6C393.4,707.0 392.8,706.1 392.4,707.5C392.0,708.9 391.7,710.9 391.5,713.1C391.3,715.3 391.1,719.4 391.0,720.7" stroke-width="2.25"/>
<path d="M379.6,721.9C380.6,722.0 383.6,722.5 385.3,722.6C387.0,722.7 389.2,722.6 390.0,722.6" stroke-width="2.25"/>
<path d="M380.1,722.6C380.0,724.2 379.6,728.9 379.6,732.1C379.6,735.3 379.8,738.8 380.1,741.6C380.4,744.4 380.9,747.6 381.5,749.1C382.1,750.6 382.8,750.5 383.4,750.5C384.0,750.5 384.8,750.6 385.3,749.1C385.9,747.6 386.2,744.4 386.7,741.6C387.2,738.8 387.7,735.3 388.1,732.1C388.5,728.9 388.9,724.2 389.1,722.6" stroke-width="2.25"/>
<path d="M379.7,731.1L388.2,731.1" stroke-width="2.25"/>
<path d="M380.1,739.7L387.0,739.7" stroke-width="2.25"/>
<path d="M394.6,694.2C394.5,695.9 394.2,701.8 394.2,704.6C394.2,707.5 394.6,708.8 394.6,711.3C394.6,713.8 394.3,718.4 394.2,719.8" stroke-width="2.25"/>
<path d="M403.2,698.9C403.1,700.5 402.8,704.9 402.7,708.4C402.6,711.9 402.7,717.9 402.7,719.8" stroke-width="2.25"/>
<path d="M394.2,720.2C394.9,720.3 397.0,720.8 398.4,720.7C399.8,720.6 402.0,719.9 402.7,719.8" stroke-width="2.25"/>
<path d="M394.2,720.7C394.1,722.4 393.9,727.6 393.7,731.1C393.5,734.6 393.1,738.9 393.2,741.6C393.3,744.3 393.6,746.0 394.2,747.2C394.8,748.4 395.7,748.7 396.5,748.7C397.3,748.7 398.3,748.9 398.9,747.2C399.4,745.5 399.6,741.5 399.8,738.7C400.0,735.9 400.1,733.2 400.3,730.2C400.6,727.2 401.1,722.3 401.3,720.7" stroke-width="2.25"/>
<path d="M393.7,731.1L400.3,731.1" stroke-width="2.25"/>
<path d="M393.4,738.2L399.9,738.2" stroke-width="2.25"/>
<path d="M403.6,699.9C404.1,700.0 405.5,699.7 406.5,700.8C407.5,701.9 409.0,704.5 409.8,706.5C410.6,708.5 410.4,710.7 411.2,713.1C412.0,715.5 413.8,719.0 414.5,720.7C415.2,722.5 415.3,723.1 415.5,723.6" stroke-width="2.25"/>
<path d="M403.6,704.6C403.8,705.7 404.1,709.1 404.6,711.3C405.2,713.5 406.3,716.0 406.9,717.9C407.4,719.8 407.7,721.8 407.9,722.6" stroke-width="2.25"/>
<path d="M407.4,723.6C407.5,725.2 407.7,729.9 407.9,733.0C408.1,736.1 408.2,740.3 408.8,742.5C409.4,744.7 410.4,746.0 411.2,746.3C412.0,746.6 413.1,746.3 413.6,744.4C414.1,742.5 413.9,738.4 414.0,734.9C414.1,731.4 415.6,725.5 414.5,723.6C413.4,721.7 408.6,723.6 407.4,723.6" stroke-width="2.25"/>
<path d="M407.9,731.1L414.2,731.1" stroke-width="2.25"/>
<path d="M408.3,737.8L414.0,737.8" stroke-width="2.25"/>
<path d="M411.7,711.3C412.3,711.3 414.4,710.8 415.5,711.3C416.6,711.8 417.2,712.5 418.3,714.1C419.4,715.7 421.3,719.1 422.1,720.7C422.9,722.3 422.9,723.1 423.0,723.6" stroke-width="2.25"/>
<path d="M410.7,712.2C411.2,713.2 412.7,716.1 413.6,717.9C414.6,719.7 415.9,722.2 416.4,723.1" stroke-width="2.25"/>
<path d="M416.9,723.6C417.1,724.9 417.8,728.6 418.3,731.1C418.9,733.6 419.6,736.7 420.2,738.7C420.8,740.7 421.4,742.5 422.1,743.0C422.8,743.5 424.1,743.7 424.5,742.0C424.9,740.3 424.8,736.1 424.5,733.0C424.2,729.9 424.3,725.2 423.0,723.6C421.7,722.0 417.9,723.6 416.9,723.6" stroke-width="2.25"/>
<path d="M418.0,728.8L424.0,728.8" stroke-width="2.25"/>
<path d="M419.5,735.9L424.5,735.9" stroke-width="2.25"/>
<path d="M90.6,711.7L98.7,710.8" stroke-width="2.6"/>
<path d="M59.5,698.6C59.0,698.2 57.6,696.7 56.2,696.1C54.8,695.5 53.2,694.8 51.3,695.3C49.4,695.8 46.6,697.6 44.8,699.4C43.0,701.2 41.5,703.2 40.7,705.9C39.9,708.6 39.5,713.3 39.9,715.8C40.3,718.3 41.6,719.4 43.2,720.7C44.8,722.1 47.8,723.5 49.7,723.9C51.6,724.3 51.6,722.7 54.6,723.1C57.6,723.5 62.8,725.7 67.7,726.4C72.6,727.1 78.8,727.1 84.0,727.2C89.2,727.3 96.2,727.2 98.7,727.2" stroke-width="2.6"/>
<path d="M98.7,711.7C98.6,712.9 97.9,716.4 97.9,719.0C97.9,721.6 98.6,725.8 98.7,727.2" stroke-width="2.6"/>
<path d="M57.9,701.0C58.0,702.1 57.8,705.4 58.7,707.6C59.7,709.8 61.3,712.1 63.6,714.1C65.9,716.1 70.0,718.6 72.6,719.8C75.2,721.0 76.9,721.8 79.1,721.5C81.3,721.2 83.8,719.8 85.7,718.2C87.6,716.6 89.8,712.8 90.6,711.7" stroke-width="2.6"/>
<path d="M66.0,694.5C65.9,695.9 64.9,700.2 65.2,702.7C65.5,705.2 65.4,707.3 67.7,709.2C70.0,711.1 75.6,714.1 79.1,714.1C82.6,714.1 87.0,711.7 88.9,709.2C90.8,706.8 90.2,702.2 90.6,699.4C91.0,696.5 91.3,693.3 91.4,692.1" stroke-width="2.6"/>
<path d="M59.5,698.6C59.8,697.6 58.9,694.4 61.1,692.9C63.3,691.4 68.5,690.1 72.6,689.6C76.7,689.1 82.4,689.3 85.7,689.6C89.0,689.9 91.1,690.9 92.2,691.2" stroke-width="2.6"/>
<path d="M67.7,694.5L72.6,694.2" stroke-width="2.6"/>
<path d="M74.2,693.4L80.8,694.5" stroke-width="2.6"/>
<path d="M49.7,715.8C50.8,716.3 53.5,718.2 56.2,719.0C58.9,719.8 64.4,720.4 66.0,720.7" stroke-width="1.9"/>
<path d="M88.9,691.2C90.0,690.8 93.7,688.5 95.5,688.8C97.3,689.1 98.4,690.9 99.5,692.9C100.6,694.9 101.7,698.4 102.0,701.0C102.3,703.6 102.0,706.9 101.2,708.4C100.4,709.9 98.7,709.9 97.1,710.0C95.5,710.1 92.8,709.9 91.4,709.2C90.0,708.5 89.3,706.5 88.9,705.9" stroke-width="2.6"/>
<path d="M97.1,685.5C97.5,683.6 100.1,683.4 102.0,683.1C103.9,682.8 106.6,683.1 108.5,683.9C110.4,684.7 112.3,685.7 113.4,688.0C114.5,690.3 115.1,694.3 115.1,697.8C115.1,701.3 114.5,706.6 113.4,709.2C112.3,711.8 110.1,712.8 108.5,713.3C106.9,713.8 104.7,713.5 103.6,712.5C102.5,711.5 102.7,710.6 102.0,707.6C101.3,704.6 100.3,698.2 99.5,694.5C98.7,690.8 96.7,687.4 97.1,685.5Z" stroke-width="2.6"/>
<path d="M115.1,688.8C116.8,688.6 122.3,688.1 125.0,687.8C127.7,687.5 129.6,687.3 131.4,687.2C133.2,687.1 135.1,687.1 135.8,687.1" stroke-width="2.6"/>
<path d="M115.1,697.0C117.0,697.5 123.2,699.6 126.5,700.2C129.8,700.8 133.6,700.7 135.0,700.8" stroke-width="2.6"/>
<path d="M115.5,697.0C114.7,698.4 111.8,703.0 110.7,705.5C109.6,708.0 108.1,710.9 108.7,712.0C109.3,713.1 112.5,711.6 114.6,712.0C116.7,712.4 119.6,714.0 121.1,714.6C122.6,715.2 122.7,716.5 123.8,715.9C124.9,715.2 126.6,712.9 127.7,710.7C128.8,708.5 130.2,704.5 130.3,702.8C130.4,701.1 128.8,700.9 128.5,700.5" stroke-width="2.6"/>
<path d="M123.8,715.9C123.6,716.8 123.7,719.4 122.5,721.1C121.3,722.9 117.6,725.5 116.6,726.4" stroke-width="2.6"/>
<path d="M100.2,711.5C100.2,711.8 99.3,712.8 100.2,713.3C101.1,713.8 104.2,713.3 105.5,714.6C106.8,715.9 106.2,719.1 108.1,721.1C109.9,723.1 116.4,724.4 116.6,726.4C116.8,728.4 112.6,732.9 109.4,732.9C106.2,732.9 99.1,729.7 97.6,726.4C96.1,723.1 99.8,715.5 100.2,713.3" stroke-width="2.6"/>
<path d="M134.8,687.5L134.8,701.9" stroke-width="2.6"/>
<path d="M135.8,687.1C138.5,687.1 147.8,687.4 152.0,687.1C156.2,686.8 157.3,686.0 160.9,685.3C164.5,684.5 170.7,683.2 173.5,682.6C176.3,682.0 177.2,681.9 178.0,681.7" stroke-width="2.6"/>
<path d="M135.8,701.5C137.3,701.5 141.2,702.1 144.8,701.5C148.4,700.9 153.2,698.4 157.4,697.9C161.6,697.4 166.3,698.5 169.9,698.8C173.5,699.1 177.4,699.6 178.9,699.7" stroke-width="2.6"/>
<path d="M178.9,681.7C179.2,681.9 178.3,682.3 180.7,682.6C183.1,682.9 189.7,683.0 193.3,683.5C196.9,684.0 199.9,684.5 202.3,685.3C204.7,686.0 206.9,686.0 207.7,688.0C208.4,690.0 207.7,695.2 206.8,697.0C205.9,698.8 204.9,698.6 202.3,698.8C199.8,698.9 195.1,697.9 191.5,697.9C187.9,697.9 182.9,699.2 180.7,698.8C178.4,698.3 178.3,698.1 178.0,695.2C177.7,692.4 178.8,684.0 178.9,681.7" stroke-width="2.6"/>
<path d="M207.7,688.0C208.6,688.1 211.0,688.4 213.1,688.9C215.2,689.4 218.4,689.7 220.3,690.7C222.2,691.8 224.1,693.9 224.7,695.2C225.3,696.6 225.8,698.2 223.9,698.8C222.0,699.4 215.7,698.9 213.1,698.8C210.5,698.6 209.3,698.0 208.6,697.9" stroke-width="2.6"/>
<path d="M129.9,703.8C131.5,703.6 136.4,702.6 139.7,702.8C143.0,703.0 145.4,704.1 149.5,704.8C153.6,705.5 160.1,706.6 164.2,706.8C168.3,707.0 171.1,706.1 174.0,705.8C176.9,705.5 180.2,704.5 181.9,704.8C183.6,705.1 183.9,706.2 184.3,707.7C184.7,709.2 184.3,713.0 184.3,714.0" stroke-width="2.6"/>
<path d="M129.9,703.8C129.7,704.8 129.1,708.2 128.9,709.7C128.7,711.2 127.1,712.1 128.9,712.6C130.7,713.1 135.4,712.4 139.7,712.6C143.9,712.8 149.5,713.0 154.4,713.6C159.3,714.2 165.0,715.6 169.1,716.1C173.2,716.6 176.4,717.0 178.9,716.6C181.4,716.2 183.4,714.4 184.3,714.0" stroke-width="2.6"/>
<path d="M184.3,708.5C188.5,708.8 202.6,709.9 209.5,710.4C216.4,710.9 222.9,710.5 225.6,711.3C228.3,712.0 228.3,714.1 225.6,714.9C222.9,715.6 216.1,715.6 209.5,715.8C202.9,715.9 190.0,715.8 186.1,715.8" stroke-width="2.6"/>
<path d="M209.5,710.4L209.5,715.8" stroke-width="2.6"/>
<path d="M217.0,711.0L217.0,715.3" stroke-width="2.6"/>
<path d="M128.9,713.6C130.8,713.6 137.5,713.3 140.4,713.8C143.3,714.3 144.1,715.6 146.1,716.5C148.1,717.4 150.2,718.5 152.7,719.0C155.1,719.5 157.9,719.5 160.8,719.8C163.7,720.0 167.0,720.3 170.0,720.5C173.0,720.7 177.4,721.1 178.9,721.2" stroke-width="2.6"/>
<path d="M128.9,713.6C128.6,714.4 127.7,717.0 127.0,718.5C126.3,720.0 124.0,721.4 124.9,722.3C125.8,723.2 129.7,723.9 132.3,723.9C134.9,723.9 137.7,722.6 140.4,722.3C143.1,722.0 145.9,721.9 148.6,722.3C151.3,722.7 154.1,723.9 156.8,724.7C159.5,725.5 161.2,726.5 164.9,727.0C168.6,727.5 176.6,727.4 178.9,727.5" stroke-width="2.6"/>
<path d="M178.9,721.2C183.1,721.4 196.6,721.8 204.1,722.1C211.6,722.4 220.6,722.1 223.9,723.0C227.2,723.9 227.2,726.6 223.9,727.5C220.6,728.4 211.6,728.4 204.1,728.4C196.6,728.4 183.1,728.7 178.9,727.5C174.7,726.3 178.9,722.2 178.9,721.2" stroke-width="2.6"/>
<path d="M204.1,722.1L204.1,728.4" stroke-width="2.6"/>
<path d="M214.0,722.6L214.0,728.0" stroke-width="2.6"/>
<path d="M118.0,724.0C119.7,724.1 124.5,724.4 128.2,724.7C131.9,725.0 136.3,725.4 140.4,725.9C144.5,726.4 148.6,727.1 152.7,728.0C156.8,728.9 161.7,730.2 164.9,731.2C168.1,732.2 170.6,732.3 171.7,733.8C172.8,735.3 171.7,739.0 171.7,740.1" stroke-width="2.6"/>
<path d="M116.7,730.5C117.2,730.6 117.4,730.7 120.0,731.2C122.6,731.7 128.2,732.7 132.3,733.7C136.4,734.7 140.4,736.0 144.5,737.0C148.6,738.0 152.3,738.9 156.8,739.4C161.3,739.9 169.2,740.0 171.7,740.1" stroke-width="2.6"/>
<path d="M120.0,731.2C122.0,731.4 128.2,732.2 132.3,732.1C136.4,732.0 141.1,730.7 144.5,730.8C147.9,730.9 150.4,731.9 152.7,732.9C155.0,733.9 157.1,735.9 158.4,737.0C159.8,738.1 160.4,739.0 160.8,739.4" stroke-width="2.2"/>
<path d="M171.7,733.8C175.3,734.1 187.0,735.0 193.3,735.6C199.6,736.2 206.8,736.5 209.5,737.4C212.2,738.3 212.2,740.4 209.5,741.0C206.8,741.6 199.6,741.1 193.3,741.0C187.0,740.9 175.3,740.2 171.7,740.1" stroke-width="2.6"/>
<path d="M193.3,735.6L193.3,741.0" stroke-width="2.6"/>
<path d="M201.0,736.5L201.0,741.0" stroke-width="2.6"/>
<path d="M109.4,735.5C111.4,735.8 115.9,736.6 121.1,737.5C126.3,738.4 133.6,740.0 140.8,741.0C148.0,742.0 160.6,742.4 164.5,743.7C168.4,745.1 164.5,748.2 164.5,749.1" stroke-width="2.6"/>
<path d="M109.4,735.5C109.8,736.1 110.0,738.2 112.0,739.0C114.0,739.8 117.7,739.9 121.1,740.5C124.5,741.1 128.4,741.9 132.3,742.7C136.2,743.5 141.1,744.4 144.5,745.1C147.9,745.8 149.4,746.1 152.7,746.8C156.0,747.5 162.5,748.7 164.5,749.1" stroke-width="2.6"/>
<path d="M164.5,743.7C167.8,744.0 178.9,744.6 184.3,745.5C189.7,746.4 194.7,748.1 196.9,749.1C199.2,750.1 199.9,751.3 197.8,751.8C195.7,752.2 189.9,752.2 184.3,751.8C178.8,751.3 167.8,749.5 164.5,749.1" stroke-width="2.6"/>
<path d="M184.3,745.5L184.3,751.8" stroke-width="2.6"/>
<ellipse cx="341.7" cy="104.2" rx="3.1" ry="1.9" stroke-width="2.1"/>
<ellipse cx="373.5" cy="104.2" rx="3.1" ry="1.9" stroke-width="2.1"/>
<ellipse cx="344.1" cy="113.4" rx="3.1" ry="1.9" stroke-width="2.1"/>
<ellipse cx="369.4" cy="113.4" rx="3.1" ry="1.9" stroke-width="2.1"/>
<ellipse cx="349" cy="121.8" rx="3.1" ry="1.9" stroke-width="2.1"/>
<ellipse cx="363.7" cy="121.8" rx="3.1" ry="1.9" stroke-width="2.1"/>
<ellipse cx="351.1" cy="128.4" rx="3.1" ry="1.9" stroke-width="2.1"/>
<ellipse cx="361.9" cy="128.4" rx="3.1" ry="1.9" stroke-width="2.1"/>
<rect x="347.6" y="140.6" width="18.8" height="4.1" rx="1.6" stroke-width="1.9"/>
<rect x="350.2" y="145.5" width="14.4" height="4.0" rx="1.6" stroke-width="1.9"/>
<rect x="352.1" y="150.3" width="10.3" height="3.5" rx="1.5" stroke-width="1.9"/>
<path d="M288.1,318.4L278.3,321.8L282.0,318.4L278.3,315.0Z" fill="#111" stroke="#111" stroke-width="0.9" stroke-linejoin="miter"/>
<path d="M305.8,551L296.0,554.1L299.7,551.0L296.0,547.9Z" fill="#111" stroke="#111" stroke-width="0.9" stroke-linejoin="miter"/>
</svg>
</body></html>
